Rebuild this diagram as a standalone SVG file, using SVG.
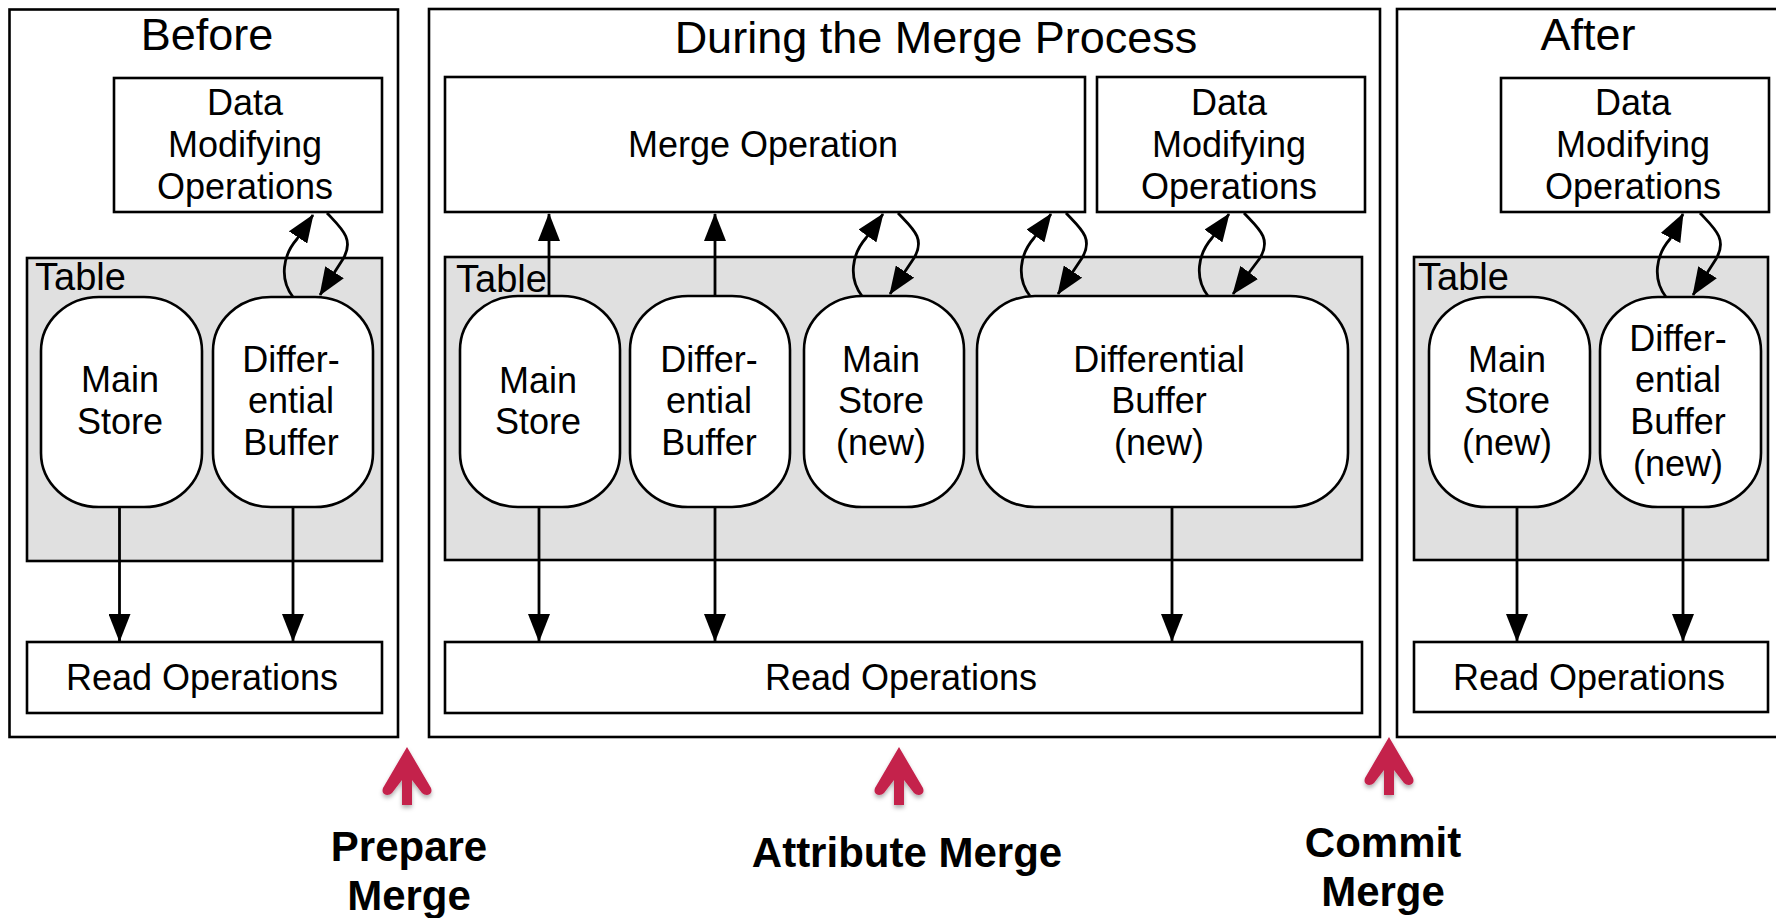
<svg xmlns="http://www.w3.org/2000/svg" xmlns:xlink="http://www.w3.org/1999/xlink" width="1776" height="918" viewBox="0 0 1776 918">
<style>
.panel{fill:#fff;stroke:#000;stroke-width:2.6}
.box{fill:#fff;stroke:#000;stroke-width:2.6}
.table{fill:#e0e0e0;stroke:#000;stroke-width:2.6}
.pill{fill:#fff;stroke:#000;stroke-width:2.6}
.t{font-family:"Liberation Sans",Arial,Helvetica,sans-serif;font-size:36px;fill:#000;text-anchor:middle}
.tl{font-family:"Liberation Sans",Arial,Helvetica,sans-serif;font-size:38px;fill:#000}
.title{font-family:"Liberation Sans",Arial,Helvetica,sans-serif;font-size:45px;fill:#000;text-anchor:middle}
.lbl{font-family:"Liberation Sans",Arial,Helvetica,sans-serif;font-size:42px;font-weight:bold;fill:#000;text-anchor:middle}
.c{fill:none;stroke:#000;stroke-width:2.8;marker-end:url(#ah)}
.red{fill:#c4214b}
</style>
<defs>
<marker id="ah" viewBox="0 0 28 22" refX="27" refY="11" markerWidth="28" markerHeight="22" markerUnits="userSpaceOnUse" orient="auto">
<path d="M0,0 L28,11 L0,22 Z" fill="#000"/>
</marker>
<filter id="sh" x="-50%" y="-50%" width="200%" height="200%">
<feDropShadow dx="0" dy="3" stdDeviation="2" flood-color="#000" flood-opacity="0.3"/>
</filter>
<path id="redarrow" d="M0,0 L24,41 Q26,47 20,48 Q17,48 15,46 L5,33 L5,58 L-5,58 L-5,33 L-15,46 Q-17,48 -20,48 Q-26,47 -24,41 Z"/>
</defs>

<!-- Panels -->
<g id="panel-before">
<rect class="panel" x="9.5" y="9.5" width="388.5" height="727.5"/>
<text class="title" x="207" y="50">Before</text>
</g>
<g id="panel-during">
<rect class="panel" x="429" y="9" width="951" height="728"/>
<text class="title" x="936" y="53">During the Merge Process</text>
</g>
<g id="panel-after">
<rect class="panel" x="1397" y="9" width="400" height="728"/>
<text class="title" x="1588" y="50">After</text>
</g>

<!-- Before nodes -->
<g id="before-dmo">
<rect class="box" x="114" y="78" width="268" height="134"/>
<text class="t" x="245" y="115">Data</text>
<text class="t" x="245" y="157">Modifying</text>
<text class="t" x="245" y="199">Operations</text>
</g>
<g id="before-table">
<rect class="table" x="27" y="258" width="355" height="303"/>
<text class="tl" x="35" y="290">Table</text>
</g>
<g id="before-main">
<rect class="pill" x="41" y="297" width="161" height="210" rx="58" ry="54"/>
<text class="t" x="120" y="392">Main</text>
<text class="t" x="120" y="434">Store</text>
</g>
<g id="before-diff">
<rect class="pill" x="213" y="297" width="160" height="210" rx="58" ry="54"/>
<text class="t" x="291" y="372">Differ-</text>
<text class="t" x="291" y="413">ential</text>
<text class="t" x="291" y="455">Buffer</text>
</g>
<g id="before-read">
<rect class="box" x="27" y="642" width="355" height="71"/>
<text class="t" x="202" y="690">Read Operations</text>
</g>

<!-- During nodes -->
<g id="during-merge">
<rect class="box" x="445" y="77" width="640" height="135"/>
<text class="t" x="763" y="157">Merge Operation</text>
</g>
<g id="during-dmo">
<rect class="box" x="1097" y="77" width="268" height="135"/>
<text class="t" x="1229" y="115">Data</text>
<text class="t" x="1229" y="157">Modifying</text>
<text class="t" x="1229" y="199">Operations</text>
</g>
<g id="during-table">
<rect class="table" x="445" y="257" width="917" height="303"/>
<text class="tl" x="456" y="292">Table</text>
</g>
<g id="during-main">
<rect class="pill" x="460" y="296" width="160" height="211" rx="58" ry="54"/>
<text class="t" x="538" y="393">Main</text>
<text class="t" x="538" y="434">Store</text>
</g>
<g id="during-diff">
<rect class="pill" x="630" y="296" width="160" height="211" rx="58" ry="54"/>
<text class="t" x="709" y="372">Differ-</text>
<text class="t" x="709" y="413">ential</text>
<text class="t" x="709" y="455">Buffer</text>
</g>
<g id="during-main-new">
<rect class="pill" x="804" y="296" width="160" height="211" rx="58" ry="54"/>
<text class="t" x="881" y="372">Main</text>
<text class="t" x="881" y="413">Store</text>
<text class="t" x="881" y="455">(new)</text>
</g>
<g id="during-diff-new">
<rect class="pill" x="977" y="296" width="371" height="211" rx="58" ry="54"/>
<text class="t" x="1159" y="372">Differential</text>
<text class="t" x="1159" y="413">Buffer</text>
<text class="t" x="1159" y="455">(new)</text>
</g>
<g id="during-read">
<rect class="box" x="445" y="642" width="917" height="71"/>
<text class="t" x="901" y="690">Read Operations</text>
</g>

<!-- After nodes -->
<g id="after-dmo">
<rect class="box" x="1501" y="78" width="268" height="134"/>
<text class="t" x="1633" y="115">Data</text>
<text class="t" x="1633" y="157">Modifying</text>
<text class="t" x="1633" y="199">Operations</text>
</g>
<g id="after-table">
<rect class="table" x="1414" y="257" width="354" height="303"/>
<text class="tl" x="1418" y="290">Table</text>
</g>
<g id="after-main">
<rect class="pill" x="1429" y="297" width="161" height="210" rx="58" ry="54"/>
<text class="t" x="1507" y="372">Main</text>
<text class="t" x="1507" y="413">Store</text>
<text class="t" x="1507" y="455">(new)</text>
</g>
<g id="after-diff">
<rect class="pill" x="1600" y="297" width="161" height="210" rx="58" ry="54"/>
<text class="t" x="1678" y="351">Differ-</text>
<text class="t" x="1678" y="392">ential</text>
<text class="t" x="1678" y="434">Buffer</text>
<text class="t" x="1678" y="476">(new)</text>
</g>
<g id="after-read">
<rect class="box" x="1414" y="642" width="354" height="70"/>
<text class="t" x="1589" y="690">Read Operations</text>
</g>

<!-- Connectors -->
<g id="connectors">
<!-- Before -->
<path class="c" d="M119.5,507 V641"/>
<path class="c" d="M293,507 V641"/>
<g transform="translate(293,297)">
<path class="c" d="M0,0 C-14,-18 -10,-42 4,-58 L20,-82"/>
<path class="c" d="M34,-84 C48,-69 62,-58 50,-38 L27,-2"/>
</g>
<!-- During -->
<path class="c" d="M549,296 V214"/>
<path class="c" d="M715,296 V214"/>
<path class="c" d="M539,507 V641"/>
<path class="c" d="M715,507 V641"/>
<path class="c" d="M1172,507 V641"/>
<g transform="translate(862,296)">
<path class="c" d="M0,0 C-14,-18 -10,-42 4,-58 L21,-82"/>
<path class="c" d="M36,-83 C50,-68 64,-58 52,-38 L28,-2"/>
</g>
<g transform="translate(1030,296)">
<path class="c" d="M0,0 C-14,-18 -10,-42 4,-58 L21,-82"/>
<path class="c" d="M36,-83 C50,-68 64,-58 52,-38 L28,-2"/>
</g>
<g transform="translate(1208,296)">
<path class="c" d="M0,0 C-14,-18 -10,-42 4,-58 L21,-82"/>
<path class="c" d="M36,-83 C50,-68 64,-58 52,-38 L25,-2"/>
</g>
<!-- After -->
<path class="c" d="M1517,507 V641"/>
<path class="c" d="M1683,507 V641"/>
<g transform="translate(1666,297)">
<path class="c" d="M0,0 C-14,-18 -10,-42 4,-58 L17,-83"/>
<path class="c" d="M34,-84 C48,-69 62,-58 50,-38 L27,-2"/>
</g>
</g>

<!-- Phase markers -->
<g id="phase-prepare">
<use xlink:href="#redarrow" href="#redarrow" class="red" filter="url(#sh)" transform="translate(407,747)"/>
<text class="lbl" x="409" y="861">Prepare</text>
<text class="lbl" x="409" y="910">Merge</text>
</g>
<g id="phase-attribute">
<use xlink:href="#redarrow" href="#redarrow" class="red" filter="url(#sh)" transform="translate(899,747)"/>
<text class="lbl" x="907" y="867">Attribute Merge</text>
</g>
<g id="phase-commit">
<use xlink:href="#redarrow" href="#redarrow" class="red" filter="url(#sh)" transform="translate(1389,737)"/>
<text class="lbl" x="1383" y="857">Commit</text>
<text class="lbl" x="1383" y="906">Merge</text>
</g>
</svg>
